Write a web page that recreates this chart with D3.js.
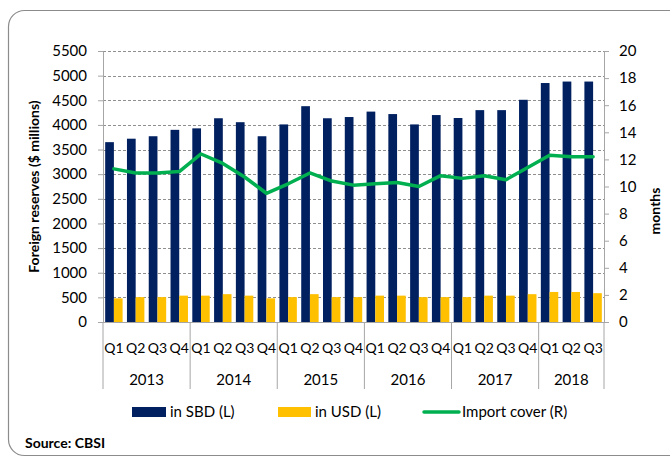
<!DOCTYPE html>
<html>
<head>
<meta charset="utf-8">
<script src="https://cdn.jsdelivr.net/npm/d3@7"></script>
<style>
  body { margin: 0; background: #fff; }
  svg { display: block; font-family: Lato, "Open Sans", sans-serif; }
</style>
</head>
<body>
<svg id="chart"></svg>
<script>
// DATA
const years = ["2013", "2014", "2015", "2016", "2017", "2018"];
const quarters = ["Q1", "Q2", "Q3", "Q4", "Q1", "Q2", "Q3", "Q4", "Q1", "Q2", "Q3", "Q4",
  "Q1", "Q2", "Q3", "Q4", "Q1", "Q2", "Q3", "Q4", "Q1", "Q2", "Q3"];
const inSBD = [3650, 3720, 3770, 3900, 3930, 4135, 4055, 3770, 4010, 4380, 4135, 4160,
  4270, 4220, 4010, 4200, 4140, 4300, 4300, 4510, 4850, 4880, 4880];
const inUSD = [480, 505, 505, 535, 535, 565, 535, 480, 505, 565, 505, 505,
  535, 535, 505, 505, 505, 535, 535, 565, 610, 610, 585];
const importCover = [11.3, 11.0, 11.0, 11.1, 12.4, 11.7, 10.7, 9.5, 10.2, 11.0, 10.4, 10.1,
  10.2, 10.3, 10.0, 10.8, 10.6, 10.8, 10.5, 11.4, 12.3, 12.2, 12.2];
const leftTicks = d3.range(0, 5501, 500);
const rightTicks = d3.range(0, 21, 2);

const W = 670, H = 459;
const plot = { left: 103, right: 604, top: 51, bottom: 322 };
const navy = "#002060", gold = "#FFC000", green = "#00B050", axisGray = "#a6a6a6";

const svg = d3.select("#chart").attr("width", W).attr("height", H);

//OUTER FRAME
svg.append("rect")
  .attr("x", 8.5).attr("y", 10.5)
  .attr("width", 720).attr("height", 445)
  .attr("rx", 16)
  .attr("fill", "none")
  .attr("stroke", "#8c8c8c")
  .attr("stroke-width", 1.2);

//SCALES
const idx = d3.range(quarters.length);
const x = d3.scaleBand().domain(idx).range([plot.left, plot.right]);
const yL = d3.scaleLinear().domain([0, 5500]).range([plot.bottom, plot.top]);
const yR = d3.scaleLinear().domain([0, 20]).range([plot.bottom, plot.top]);
const bw = x.bandwidth();

//GRIDLINES
svg.append("g")
  .selectAll("line")
  .data(leftTicks.filter(d => d > 0))
  .enter()
  .append("line")
  .attr("x1", plot.left).attr("x2", plot.right)
  .attr("y1", d => Math.round(yL(d)) + 0.5)
  .attr("y2", d => Math.round(yL(d)) + 0.5)
  .attr("stroke", "#8f8f8f")
  .attr("stroke-width", 1)
  .attr("stroke-dasharray", "3,2");

//BARS
svg.append("g")
  .selectAll("rect")
  .data(idx)
  .enter()
  .append("rect")
  .attr("x", i => x(i) + bw * 0.1)
  .attr("width", bw * 0.4)
  .attr("y", i => yL(inSBD[i]))
  .attr("height", i => yL(0) - yL(inSBD[i]))
  .attr("fill", navy);

svg.append("g")
  .selectAll("rect")
  .data(idx)
  .enter()
  .append("rect")
  .attr("x", i => x(i) + bw * 0.5)
  .attr("width", bw * 0.4)
  .attr("y", i => yL(inUSD[i]))
  .attr("height", i => yL(0) - yL(inUSD[i]))
  .attr("fill", gold);

//AXES
const axisL = svg.append("g")
  .attr("transform", "translate(" + plot.left + ",0)")
  .call(d3.axisLeft(yL).tickValues(leftTicks).tickFormat(d3.format("d"))
    .tickSize(5).tickPadding(11).tickSizeOuter(0));
const axisR = svg.append("g")
  .attr("transform", "translate(" + plot.right + ",0)")
  .call(d3.axisRight(yR).tickValues(rightTicks).tickFormat(d3.format("d"))
    .tickSize(5).tickPadding(10).tickSizeOuter(0));
[axisL, axisR].forEach(a => {
  a.selectAll("line").attr("stroke", axisGray);
  a.select(".domain").attr("stroke", axisGray);
  a.selectAll("text")
    .style("font-family", "Lato, 'Open Sans', sans-serif")
    .style("font-size", "15px")
    .attr("fill", "#000");
});

//CATEGORY AXIS
svg.append("line")
  .attr("x1", plot.left).attr("x2", plot.right)
  .attr("y1", plot.bottom + 0.5).attr("y2", plot.bottom + 0.5)
  .attr("stroke", axisGray);

const groupEdges = [0, 4, 8, 12, 16, 20];
svg.append("g")
  .selectAll("line")
  .data(groupEdges.map(i => x(i)).concat([plot.right]))
  .enter()
  .append("line")
  .attr("x1", d => d).attr("x2", d => d)
  .attr("y1", plot.bottom).attr("y2", 389)
  .attr("stroke", axisGray);

svg.append("g")
  .selectAll("text")
  .data(idx)
  .enter()
  .append("text")
  .attr("x", i => x(i) + bw / 2)
  .attr("y", 353)
  .attr("text-anchor", "middle")
  .style("font-size", "14px")
  .text(i => quarters[i]);

svg.append("g")
  .selectAll("text")
  .data(years)
  .enter()
  .append("text")
  .attr("x", (d, k) => {
    const a = x(groupEdges[k]);
    const b = k < years.length - 1 ? x(groupEdges[k + 1]) : plot.right;
    return (a + b) / 2;
  })
  .attr("y", 385)
  .attr("text-anchor", "middle")
  .style("font-size", "15px")
  .text(d => d);

//LINE
const line = d3.line()
  .x(i => x(i) + bw / 2)
  .y(i => yR(importCover[i]));
svg.append("path")
  .datum(idx)
  .attr("fill", "none")
  .attr("stroke", green)
  .attr("stroke-width", 3.5)
  .attr("stroke-linejoin", "round")
  .attr("stroke-linecap", "round")
  .attr("d", line);

//AXIS TITLES
svg.append("text")
  .attr("transform", "translate(39," + (plot.top + plot.bottom) / 2 + ") rotate(-90)")
  .attr("text-anchor", "middle")
  .style("font-size", "14px")
  .style("font-weight", "bold")
  .text("Foreign reserves ($ millions)");
svg.append("text")
  .attr("transform", "translate(660,211) rotate(-90)")
  .attr("text-anchor", "middle")
  .style("font-size", "14px")
  .style("font-weight", "bold")
  .text("months");

//LEGEND
const lg = svg.append("g").attr("transform", "translate(0,412)");
lg.append("rect").attr("x", 132).attr("y", -5).attr("width", 34).attr("height", 10).attr("fill", navy);
lg.append("text").attr("x", 170).attr("y", 5).style("font-size", "15px").text("in SBD (L)");
lg.append("rect").attr("x", 278).attr("y", -5).attr("width", 33).attr("height", 10).attr("fill", gold);
lg.append("text").attr("x", 315).attr("y", 5).style("font-size", "15px").text("in USD (L)");
lg.append("line").attr("x1", 424).attr("x2", 459).attr("y1", 0).attr("y2", 0)
  .attr("stroke", green).attr("stroke-width", 3.5).attr("stroke-linecap", "round");
lg.append("text").attr("x", 462).attr("y", 5).style("font-size", "15px").text("Import cover (R)");

//SOURCE
svg.append("text")
  .attr("x", 25).attr("y", 448)
  .style("font-size", "14px")
  .style("font-weight", "bold")
  .text("Source: CBSI");
</script>
</body>
</html>
